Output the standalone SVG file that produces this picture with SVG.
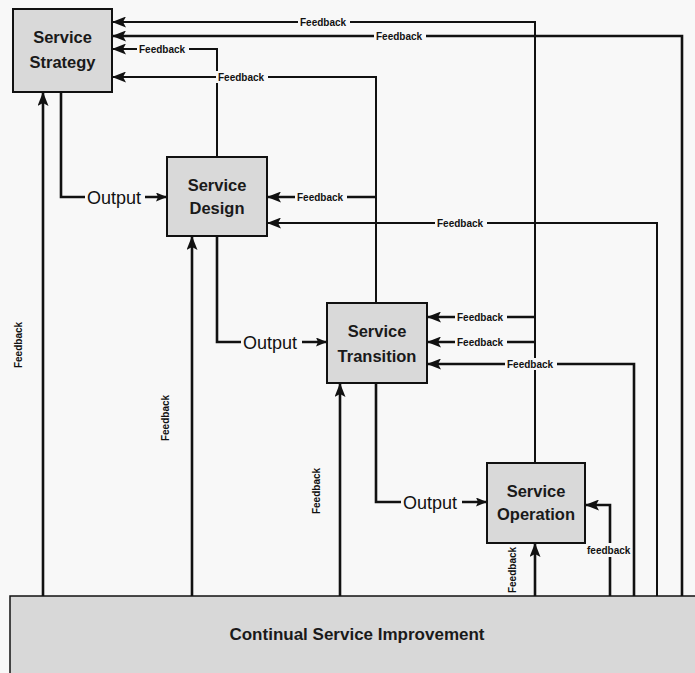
<svg xmlns="http://www.w3.org/2000/svg" width="695" height="673" viewBox="0 0 695 673">
<style>
.bg{fill:#f8f8f8}
.node{fill:#d9d9d9;stroke:#111;stroke-width:2}
.nt{font-family:"Liberation Sans",Arial,sans-serif;font-weight:bold;font-size:16.5px;fill:#1a1a1a;text-anchor:middle}
.ln{fill:none;stroke:#111;stroke-width:2.6;stroke-linejoin:miter}
.thin{stroke-width:2}
.fb{font-family:"Liberation Sans",Arial,sans-serif;font-weight:bold;font-size:10px;fill:#111}
.out{font-family:"Liberation Sans",Arial,sans-serif;font-size:18px;fill:#111}
.lb{fill:#f8f8f8}
.csi{font-family:"Liberation Sans",Arial,sans-serif;font-weight:bold;font-size:17px;fill:#1a1a1a;text-anchor:middle}
</style>
<defs>
<marker id="ah" markerUnits="userSpaceOnUse" markerWidth="14" markerHeight="11" refX="14" refY="5.5" orient="auto"><path d="M0,0 L14,5.5 L0,11 L3,5.5 z" fill="#111"/></marker>
<marker id="ahs" markerUnits="userSpaceOnUse" markerWidth="11" markerHeight="9" refX="11" refY="4.5" orient="auto"><path d="M0,0 L11,4.5 L0,9 L2,4.5 z" fill="#111"/></marker>
</defs>
<rect class="bg" x="0" y="0" width="695" height="673"/>

<g id="csi">
<rect x="10" y="596" width="690" height="80" fill="#d8d8d8" stroke="#111" stroke-width="1.5"/>
<text class="csi" x="357" y="640">Continual Service Improvement</text>
</g>

<g id="connectors">
<path class="ln thin" d="M535,463 V22 H112" marker-end="url(#ah)"/>
<path class="ln" d="M682,596 V36 H112" marker-end="url(#ah)"/>
<path class="ln thin" d="M217,157 V49 H112" marker-end="url(#ah)"/>
<path class="ln thin" d="M376,303 V77 H112" marker-end="url(#ah)"/>
<path class="ln" d="M61,92 V197 H167" marker-end="url(#ahs)"/>
<path class="ln" d="M43,596 V92" marker-end="url(#ah)"/>
<path class="ln" d="M376,197 H267" marker-end="url(#ah)"/>
<path class="ln thin" d="M657,596 V223 H267" marker-end="url(#ah)"/>
<path class="ln" d="M192,596 V236" marker-end="url(#ah)"/>
<path class="ln" d="M217,236 V342 H327" marker-end="url(#ahs)"/>
<path class="ln" d="M535,317 H427" marker-end="url(#ah)"/>
<path class="ln" d="M535,342 H427" marker-end="url(#ah)"/>
<path class="ln" d="M634,596 V364 H427" marker-end="url(#ah)"/>
<path class="ln" d="M340,596 V383" marker-end="url(#ah)"/>
<path class="ln" d="M376,383 V502 H487" marker-end="url(#ahs)"/>
<path class="ln" d="M535,596 V543" marker-end="url(#ah)"/>
<path class="ln" d="M610,596 V505 H585" marker-end="url(#ah)"/>

<rect class="lb" x="298" y="16" width="52" height="12"/><text class="fb" x="300" y="25.5">Feedback</text>
<rect class="lb" x="374" y="30" width="52" height="12"/><text class="fb" x="376" y="39.5">Feedback</text>
<rect class="lb" x="137" y="43" width="52" height="12"/><text class="fb" x="139" y="52.5">Feedback</text>
<rect class="lb" x="216" y="71" width="52" height="12"/><text class="fb" x="218" y="80.5">Feedback</text>
<rect class="lb" x="295" y="191" width="52" height="12"/><text class="fb" x="297" y="200.5">Feedback</text>
<rect class="lb" x="435" y="217" width="52" height="12"/><text class="fb" x="437" y="226.5">Feedback</text>
<rect class="lb" x="455" y="311" width="52" height="12"/><text class="fb" x="457" y="320.5">Feedback</text>
<rect class="lb" x="455" y="336" width="52" height="12"/><text class="fb" x="457" y="345.5">Feedback</text>
<rect class="lb" x="505" y="358" width="52" height="12"/><text class="fb" x="507" y="367.5">Feedback</text>
<rect class="lb" x="586" y="543" width="45" height="14"/><text class="fb" x="587" y="553.5">feedback</text>

<rect class="lb" x="85" y="186" width="60" height="22"/><text class="out" x="87" y="204">Output</text>
<rect class="lb" x="241" y="331" width="61" height="22"/><text class="out" x="243" y="349">Output</text>
<rect class="lb" x="401" y="491" width="61" height="22"/><text class="out" x="403" y="509">Output</text>

<text class="fb" text-anchor="middle" transform="translate(21.5,345) rotate(-90)">Feedback</text>
<text class="fb" text-anchor="middle" transform="translate(168.5,418) rotate(-90)">Feedback</text>
<text class="fb" text-anchor="middle" transform="translate(319.5,491) rotate(-90)">Feedback</text>
<text class="fb" text-anchor="middle" transform="translate(515.5,570) rotate(-90)">Feedback</text>
</g>

<g id="strategy">
<rect class="node" x="13" y="9" width="99" height="83"/>
<text class="nt" x="62.5" y="43">Service</text>
<text class="nt" x="62.5" y="68">Strategy</text>
</g>
<g id="design">
<rect class="node" x="167" y="157" width="100" height="79"/>
<text class="nt" x="217" y="191">Service</text>
<text class="nt" x="217" y="214">Design</text>
</g>
<g id="transition">
<rect class="node" x="327" y="303" width="100" height="80"/>
<text class="nt" x="377" y="337">Service</text>
<text class="nt" x="377" y="362">Transition</text>
</g>
<g id="operation">
<rect class="node" x="487" y="463" width="98" height="80"/>
<text class="nt" x="536" y="497">Service</text>
<text class="nt" x="536" y="520">Operation</text>
</g>
</svg>
